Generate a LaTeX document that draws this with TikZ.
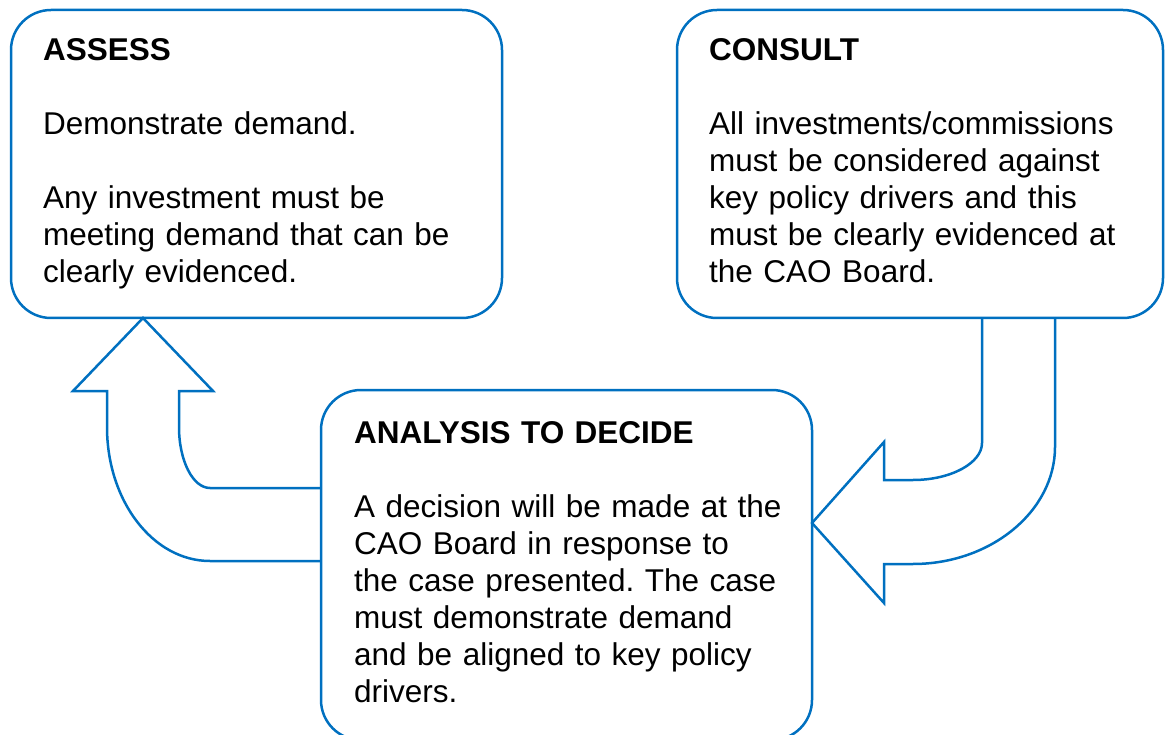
\documentclass[tikz,border=0pt]{standalone}
\usepackage{fontspec}
\setmainfont{Liberation Sans}
\usepackage{xcolor}
\usetikzlibrary{calc, positioning}
\definecolor{stageblue}{HTML}{0070C0}
\frenchspacing

\begin{document}
\begin{tikzpicture}[
  x=1pt, y=-1pt,
  stage/.style={
    draw=stageblue,
    line width=2.5pt,
    rounded corners=40pt,
    anchor=north west,
    inner sep=0pt,
    outer sep=0pt
  },
  txt/.style={
    anchor=base west,
    inner sep=0pt,
    text width=450pt,
    align=left,
    font=\fontsize{31.5}{37}\selectfont
  },
  bentarr/.style={
    draw=stageblue,
    line width=2.5pt,
    line join=miter
  }
]
\useasboundingbox (0,0) rectangle (1165,735);

% Boxes
\node [stage, minimum width=491pt, minimum height=308pt] (assess) at (11,10) {};
\node [stage, minimum width=486pt, minimum height=308pt] (consult) at (677,10) {};
\node [stage, minimum width=491pt, minimum height=350pt] (decide) at (321,390) {};

% Texts inside the boxes
\node [txt] (assesstext) at ($(assess.north west)+(32,51)$)
  {\textbf{ASSESS}\\[37pt]Demonstrate demand.\\[37pt]Any investment must be\\meeting demand that can be\\clearly evidenced.};
\node [txt] (consulttext) at ($(consult.north west)+(32,51)$)
  {\textbf{CONSULT}\\[37pt]All investments/commissions\\must be considered against\\key policy drivers and this\\must be clearly evidenced at\\the CAO Board.};
\node [txt] (decidetext) at ($(decide.north west)+(33,53)$)
  {\textbf{ANALYSIS TO DECIDE}\\[37pt]A decision will be made at the\\CAO Board in response to\\the case presented. The case\\must demonstrate demand\\and be aligned to key policy\\drivers.};

% Bent arrow from decide up to assess
\draw [bentarr]
  ($(decide.north west)+(0,98)$) -- (210,488)
  .. controls (193,488) and (179,461) .. (179,427)
  -- (179,391) -- (213,391)
  -- ($(assess.south west)+(132,0)$)
  -- (73,391) -- (107,391) -- (107,427)
  .. controls (107,501) and (153,561) .. (210,561)
  -- ($(decide.north west)+(0,171)$);

% Bent arrow from consult down to decide
\draw [bentarr]
  ($(consult.south west)+(305,0)$) -- (982,443)
  .. controls (982,463) and (951,480) .. (913,480)
  -- (884,480) -- (884,442)
  -- ($(decide.north east)+(0,133)$)
  -- (884,603) -- (884,564) -- (913,564)
  .. controls (991,564) and (1055,511) .. (1055,447)
  -- ($(consult.south west)+(378,0)$);

\end{tikzpicture}
\end{document}
